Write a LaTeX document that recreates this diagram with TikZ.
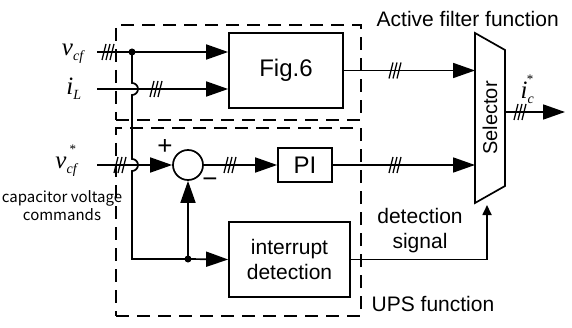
\documentclass[tikz,border=0pt]{standalone}
\usepackage{fontspec}
\setsansfont{Liberation Sans}
\newfontfamily\tnr{Liberation Serif}
\newfontfamily\jpfont{Noto Sans CJK JP}
\usetikzlibrary{positioning, arrows.meta}
% italic signal name with subscript and optional star
\newcommand\vsig[3]{{\tnr\itshape\fontsize{25}{25}\selectfont #1\raisebox{-5pt}{\fontsize{14}{14}\selectfont #2}\kern-7pt\raisebox{15pt}{\upshape\fontsize{13}{13}\selectfont #3}}}

\begin{document}
\begin{tikzpicture}[x=1pt, y=1pt, line width=1.7pt,
    blk/.style={draw, font=\sffamily\fontsize{24}{26}\selectfont, inner sep=0pt},
    grp/.style={draw, dash pattern=on 13pt off 8pt, inner sep=0pt},
    sig/.style={-{Triangle[length=22pt, width=15pt]}},
    lbl/.style={font=\sffamily\fontsize{21}{25}\selectfont, align=center, inner sep=0pt},
    bus/.pic={\draw[line width=1.3pt] (-6,-8) -- (-2,8) (-2,-8) -- (2,8) (2,-8) -- (6,8);}]
    \useasboundingbox (0,0) rectangle (572,327);
    % function groups
    \node[grp, minimum width=245, minimum height=95] (afbox) at (238.5,254.5) {};
    \node[grp, minimum width=245, minimum height=188] (upsbox) at (238.5,105) {};
    \node[lbl, right=14pt of afbox.north east, yshift=5pt] (aftxt) {Active filter function};
    \node[lbl, right=9pt of upsbox.south east, yshift=13pt] (upstxt) {UPS function};
    % blocks
    \node[blk, minimum width=114, minimum height=75] (fig6) at (286,256.5) {Fig.6};
    \node[blk, minimum width=54, minimum height=34] (pi) at (305,162) {PI};
    \node[blk, minimum width=121, minimum height=75, align=center, font=\sffamily\fontsize{21}{25}\selectfont] (intr) at (289.5,67.5) {interrupt\\detection};
    \node[draw, circle, minimum size=30, inner sep=0pt] (sum) at (188,162) {};
    \node[font=\sffamily\fontsize{26}{26}\selectfont, inner sep=0pt] (plus) at ([xshift=-23pt, yshift=18pt]sum.center) {+};
    \node[font=\sffamily\fontsize{26}{26}\selectfont, inner sep=0pt] (minus) at ([xshift=22pt, yshift=-18pt]sum.center) {−};
    % selector
    \draw (475,294) -- (505,277) -- (505,141) -- (475,124) -- cycle;
    \node[lbl, rotate=90, font=\sffamily\fontsize{20}{24}\selectfont] (sel) at (490,209) {Selector};
    \coordinate (selL) at (475,209);
    \coordinate (selR) at (505,215);
    \coordinate (selB) at (487,122);
    \coordinate (icout) at (565,215);
    % inputs
    \coordinate (vin) at (97,275);
    \coordinate (iin) at (97,238);
    \coordinate (vrin) at (97,162);
    \node[inner sep=0pt, left=20pt of vin] (vlab) {\vsig{v}{cf}{}};
    \node[inner sep=0pt, left=22pt of iin] (ilab) {\vsig{i}{L}{}};
    \node[inner sep=0pt, left=20pt of vrin, yshift=4pt] (vrlab) {\vsig{v}{cf}{*}};
    \node[font=\jpfont\fontsize{15}{18}\selectfont, align=center, inner sep=0pt] (cvc) at (62,121) {capacitor voltage\\commands};
    \coordinate (jv) at (132,275);
    \coordinate (jd) at (188,68);
    \draw[sig] (vin) -- (vin -| fig6.west);
    \draw[sig] (iin) -- (iin -| fig6.west);
    \draw[sig] (vrin) -- (sum.west);
    \draw (jv) -- (132,244) arc[start angle=90, end angle=-90, radius=6] -- (132,168) arc[start angle=90, end angle=-90, radius=6] -- (jd -| jv) -- (jd);
    \fill (jv) circle (3.5);
    \fill (jd) circle (3.5);
    \draw[sig] (jd) -- (sum.south);
    \draw[sig] (jd) -- (intr.west);
    \draw[sig] (sum.east) -- (pi.west);
    % to selector
    \draw[sig] (fig6.east) -- (fig6.east -| selL);
    \draw[sig] (pi.east) -- (pi.east -| selL);
    \draw[sig] (selR) -- (icout);
    \draw[-{Triangle[length=10pt, width=9pt]}] (intr.east) -| (selB);
    \node[lbl] (dettxt) at (420,96.5) {detection\\signal};
    \node[inner sep=0pt, above=8pt of selR, xshift=22pt] (iclab) {\vsig{i}{c}{*}};
    % bus marks
    \pic at (108,275) {bus};
    \pic at (156,238) {bus};
    \pic at (120,162) {bus};
    \pic at (230,162) {bus};
    \pic at (395,256.5) {bus};
    \pic at (395,162) {bus};
    \pic at (520,215) {bus};
\end{tikzpicture}
\end{document}
